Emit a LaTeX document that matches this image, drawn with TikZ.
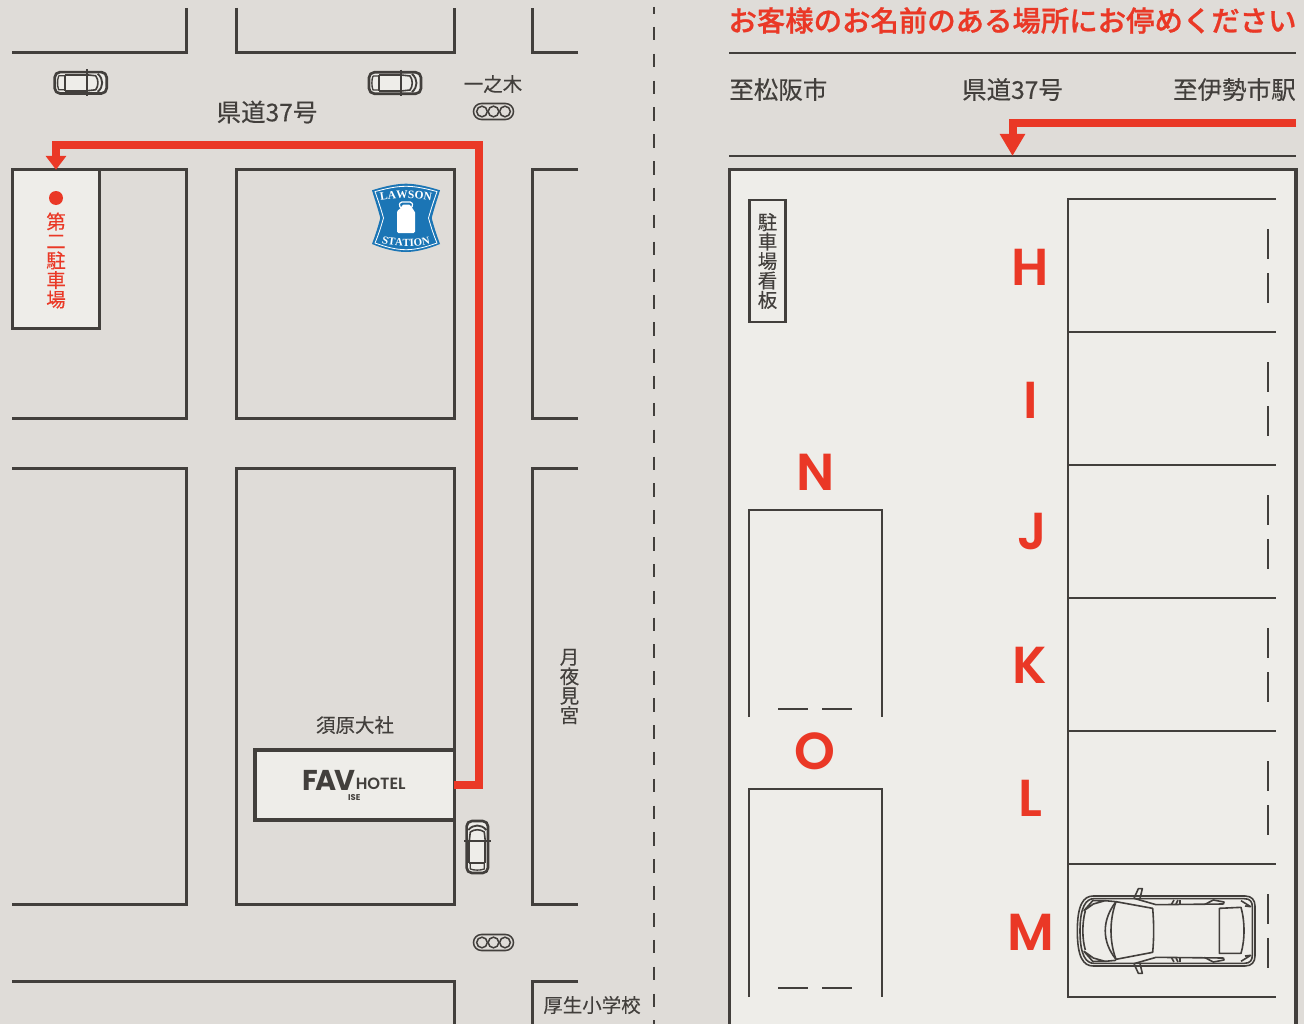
\documentclass[tikz,border=0pt]{standalone}
\usepackage{fontspec}
\usetikzlibrary{arrows.meta,decorations.text,calc}
\setmainfont[FakeBold=.25]{Noto Sans CJK JP}
\newfontfamily\titlefont[FakeBold=.9]{Noto Sans CJK JP Medium}
\newfontfamily\latinbold{Poppins}
\newfontfamily\semifont{Poppins SemiBold}
\newfontfamily\favfont[LetterSpace=-8]{Poppins}
\newfontfamily\lawfont{Liberation Serif}
\lineskiplimit=-10pt
\definecolor{bgc}{HTML}{DFDCD8}
\definecolor{lightc}{HTML}{EEEDE9}
\definecolor{darkc}{HTML}{423F3C}
\definecolor{redc}{HTML}{EA3826}
\definecolor{bluec}{HTML}{1B75B5}
\tikzset{
  block/.style={draw=darkc,line width=2.25pt,line join=miter},
  stall/.style={draw=darkc,line width=2.2pt},
  frame/.style={draw=darkc,fill=lightc,line width=2.4pt,inner sep=0pt,outer sep=0pt},
  route/.style={draw=redc,line width=6pt,line join=miter},
  lab/.style={text=darkc,inner sep=0pt,font=\fontsize{14.6}{14.6}\selectfont},
  biglab/.style={text=darkc,inner sep=0pt,font=\fontsize{18.4}{18.4}\selectfont},
  stacklab/.style={lab,align=center},
  letter/.style={text=redc,inner sep=0pt,font=\fontsize{39}{39}\semifont},
  carline/.style={draw=darkc,line width=1.2pt,line join=round},
  smallcar/.style={draw=darkc,line width=2pt,line join=round},
  signal/.style={draw=darkc,line width=1.15pt}
}
\newcommand{\signalat}[1]{%
  \draw[signal,rounded corners=6pt] ($(#1)+(-20,-8)$) rectangle ($(#1)+(20,8)$);
  \foreach \dx in {-11.5,0,11.5}{\draw[signal] ($(#1)+(\dx,0)$) circle[radius=5.3];}
}
\newcommand{\smallcarat}[2]{%
  \begin{scope}[shift={(#1)},rotate=#2]
    \draw[smallcar,fill=lightc,rounded corners=4pt] (-26,-10.7) rectangle (26,10.7);
    \draw[smallcar,line width=1pt] (-22,-7) -- (-16,-7) -- (-16,7) -- (-22,7) .. controls (-23.5,3) and (-23.5,-3) .. (-22,-7);
    \draw[smallcar,line width=1.3pt] (-16,-8) -- (5,-8);
    \draw[smallcar,line width=1.3pt] (-16,8) -- (5,8);
    \draw[smallcar,line width=1.2pt] (-16,-8) -- (-16,8);
    \draw[smallcar,line width=1.8pt] (6,-13.3) -- (6,13.3);
    \draw[smallcar,line width=1.2pt] (6,-8) -- (15,-7) .. controls (18,-3) and (18,3) .. (15,7) -- (6,8);
    \draw[smallcar,line width=1.4pt] (17,-9) .. controls (23,-4) and (23,4) .. (17,9);
  \end{scope}
}
\begin{document}
\begin{tikzpicture}[x=.75pt,y=-.75pt]
\useasboundingbox (0,0) rectangle (1304,1024);
\fill[bgc] (0,0) rectangle (1304,1024);

% city blocks
\draw[block] (12,53) -- (186,53) -- (186,8);
\draw[block] (236,8) -- (236,53) -- (454.7,53) -- (454.7,8);
\draw[block] (578,53) -- (532,53) -- (532,8);
\draw[block] (12,418) -- (186,418) -- (186,169) -- (100,169);
\draw[block] (236,169) rectangle (454.7,418);
\draw[block] (578,169) -- (532,169) -- (532,418) -- (578,418);
\draw[block] (12,468) -- (186,468) -- (186,904) -- (12,904);
\draw[block] (236,468) rectangle (454.7,904);
\draw[block] (578,468) -- (532,468) -- (532,904) -- (578,904);
\draw[block] (12,981) -- (454.7,981) -- (454.7,1024);
\draw[block] (578,981) -- (532,981) -- (532,1024);

% centre dashed line
\draw[darkc,line width=1.9pt,dash pattern=on 10.14pt off 10pt,dash phase=5.25pt] (654,7) -- (654,1024);

% boxes
\node[frame,minimum width=65.25pt,minimum height=119.1pt] (second) at (56,249.2) {};
\node[frame,minimum width=149.6pt,minimum height=52.5pt] (hotel) at (354.7,785) {};

% route on the map
\coordinate (r1) at (478.7,785);
\coordinate (r2) at (478.7,145);
\coordinate (r3) at (56,145);
\draw[route,-{Triangle[length=10.5pt,width=15pt,inset=0pt]}] (hotel.east) -- (r1) -- (r2) -- (r3) -- (second.north);

\node[circle,fill=redc,minimum size=10.5pt,inner sep=0pt] (dot) at (56,198) {};
\node[stacklab,text=redc] (secondlab) at (56,260.5) {第\\二\\駐\\車\\場};

% map labels
\node[biglab] (road) at (267,112) {県道37号};
\node[lab] (ichi) at (493,84) {一之木};
\node[lab] (suhara) at (355,725) {須原大社};
\node[stacklab] (tsuki) at (569.5,686.5) {月\\夜\\見\\宮};
\node[lab] (school) at (592,1005) {厚生小学校};

% signals
\coordinate (sig1) at (493.5,111.5);
\coordinate (sig2) at (493.5,942.5);
\signalat{sig1}
\signalat{sig2}

% small cars
\smallcarat{80.7,82.8}{0}
\smallcarat{395,83}{0}
\smallcarat{477.3,847}{90}

% hotel logo
\node[text=darkc,inner sep=0pt,anchor=base west,font=\fontsize{21.5}{21.5}\favfont\bfseries] (fav) at (302,790) {FAV};
\node[text=darkc,inner sep=0pt,anchor=base west,font=\fontsize{12.2}{12.2}\semifont] (hotelname) at (355.5,789.5) {HOTEL};
\node[text=darkc,inner sep=0pt,font=\fontsize{6.3}{6.3}\latinbold\bfseries] (ise) at (354.3,797.5) {ISE};

% Lawson mark
\fill[bluec] (372,190.3) .. controls (384,186.5) and (396,183.7) .. (406,183.7) .. controls (416,183.7) and (428,186.5) .. (440,190.3) .. controls (437,200) and (434,209) .. (431.7,218) .. controls (434,227) and (437,236) .. (440,244) .. controls (428,249) and (416,252) .. (406,252) .. controls (396,252) and (384,249) .. (372,244) .. controls (375,236) and (378,227) .. (380.3,218) .. controls (378,209) and (375,200) .. (372,190.3) -- cycle;
\draw[white,line width=.6pt] (375,191.6) .. controls (386,188.6) and (396,186.3) .. (406,186.3) .. controls (416,186.3) and (426,188.6) .. (437,191.6) .. controls (434,200) and (431,209) .. (428.5,218) .. controls (431,227) and (434,236) .. (437,243) .. controls (426,247) and (416,249.7) .. (406,249.7) .. controls (396,249.7) and (386,247) .. (375,243) .. controls (378,236) and (381,227) .. (383.5,218) .. controls (381,209) and (378,200) .. (375,191.6) -- cycle;
\fill[white,rounded corners=1.2pt] (397,233.2) -- (397,214) .. controls (397,209.5) and (401.5,209) .. (401.7,204.7) -- (411,204.7) .. controls (411.2,209) and (415,209.5) .. (415,214) -- (415,233.2) -- cycle;
\draw[white,line width=.9pt,rounded corners=1pt] (401,208) -- (399,205.5) -- (400.5,202) -- (411.5,202) -- (413,205.5) -- (411,208);
\path[postaction={decorate},decoration={text along path,text color=white,text align=center,text={|\fontsize{8.6}{8.6}\lawfont\bfseries|LAWSON}}] (380,201) .. controls (396,197.6) and (416,197.6) .. (432,201);
\path[postaction={decorate},decoration={text along path,text color=white,text align=center,text={|\fontsize{8.2}{8.2}\lawfont\bfseries|STATION}}] (380,243) .. controls (396,247.4) and (416,247.4) .. (432,243);

% right panel heading
\node[text=redc,inner sep=0pt,font=\fontsize{21.3}{21.3}\titlefont] (title) at (1012.5,20.5) {お客様のお名前のある場所にお停めください};
\draw[block,line width=2.1pt] (729,53) -- (1296,53);
\node[biglab,anchor=west] (from) at (729,89.5) {至松阪市};
\node[biglab] (road2) at (1012.5,89.5) {県道37号};
\node[biglab,anchor=east] (to) at (1296,89.5) {至伊勢市駅};
\draw[block,line width=2.1pt] (729,156) -- (1296,156);

% lot
\fill[lightc] (729.5,169.5) rectangle (1296,1030);
\draw[block,line width=2.5pt] (729.5,1030) -- (729.5,169.5) -- (1296,169.5) -- (1296,1030);

% entry arrow
\coordinate (e0) at (1296,123.5);
\coordinate (e1) at (1012.5,123.5);
\coordinate (e2) at (1012.5,156);
\draw[route,-{Triangle[length=16.5pt,width=18pt,inset=0pt]}] (e0) -- (e1) -- (e2);

% sign
\node[frame,fill=lightc,line width=2.1pt,minimum width=27.5pt,minimum height=91.5pt] (sign) at (767.5,261) {};
\node[stacklab] (signlab) at (767.5,261) {駐\\車\\場\\看\\板};

% right stalls
\draw[stall] (1276,199) -- (1068,199) -- (1068,997) -- (1276,997);
\foreach \yy in {332,465,598,731,864}{\draw[stall] (1068,\yy) -- (1276,\yy);}
\foreach \yy in {199,332,465,598,731,864}{
  \draw[stall] (1268,\yy+30) -- (1268,\yy+60);
  \draw[stall] (1268,\yy+74) -- (1268,\yy+104);
}
% left stalls
\draw[stall] (749,717) -- (749,510) -- (882,510) -- (882,717);
\draw[stall] (778,709) -- (808,709);
\draw[stall] (822,709) -- (852,709);
\draw[stall] (749,997) -- (749,789) -- (882,789) -- (882,997);
\draw[stall] (778,988) -- (808,988);
\draw[stall] (822,988) -- (852,988);

% stall letters
\node[letter] (H) at (1030,267) {H};
\node[letter] (I) at (1030.5,400) {I};
\node[letter] (J) at (1032,532) {J};
\node[letter] (K) at (1030,665) {K};
\node[letter] (L) at (1030,798) {L};
\node[letter] (M) at (1030.5,932) {M};
\node[letter] (N) at (815.5,472) {N};
\node[letter] (O) at (815,751) {O};

% parked car (zoom coordinates, symmetric about y=183)
\begin{scope}[shift={(1060,870)},scale=1/3]
  \draw[carline] (100,78) -- (555,78) .. controls (575,78) and (585,90) .. (585,108) -- (585,258) .. controls (585,276) and (575,288) .. (555,288) -- (100,288) .. controls (70,288) and (52,262) .. (52,183) .. controls (52,104) and (70,78) .. (100,78) -- cycle;
  \draw[carline] (102,86) -- (553,86) .. controls (570,86) and (577,95) .. (577,110) -- (577,256) .. controls (577,271) and (570,280) .. (553,280) -- (102,280) .. controls (78,280) and (60,256) .. (60,183) .. controls (60,110) and (78,86) .. (102,86) -- cycle;
  \draw[carline] (168,95) -- (278,115) .. controls (282,160) and (282,205) .. (278,247) -- (168,268);
  \draw[carline] (168,95) .. controls (125,150) and (125,215) .. (168,268);
  \draw[carline] (168,95) .. controls (148,150) and (148,215) .. (168,268);
  \draw[carline] (76,122) .. controls (66,160) and (66,205) .. (76,240);
  \draw[carline] (478,115) -- (543,112) .. controls (555,155) and (555,210) .. (543,250) -- (478,250) -- cycle;
  \foreach \s/\c in {1/0,-1/366}{
    \begin{scope}[shift={(0,\c)},yscale=\s]
      \draw[carline] (72,122) -- (98,92) -- (135,92) -- (100,102) -- cycle;
      \draw[carline] (135,92) -- (168,95);
      \draw[carline] (222,85) -- (288,104) -- (490,102);
      \draw[carline] (222,85) -- (235,56) -- (247,56) -- (240,85);
      \draw[carline] (335,102) -- (342,90);
      \draw[carline] (348,102) -- (354,90);
      \draw[carline] (360,102) -- (360,90);
      \draw[carline] (433,104) -- (460,90) -- (492,96) -- (490,103);
      \draw[carline] (543,92) -- (572,110) -- (555,108);
    \end{scope}
  }
\end{scope}
\end{tikzpicture}
\end{document}
